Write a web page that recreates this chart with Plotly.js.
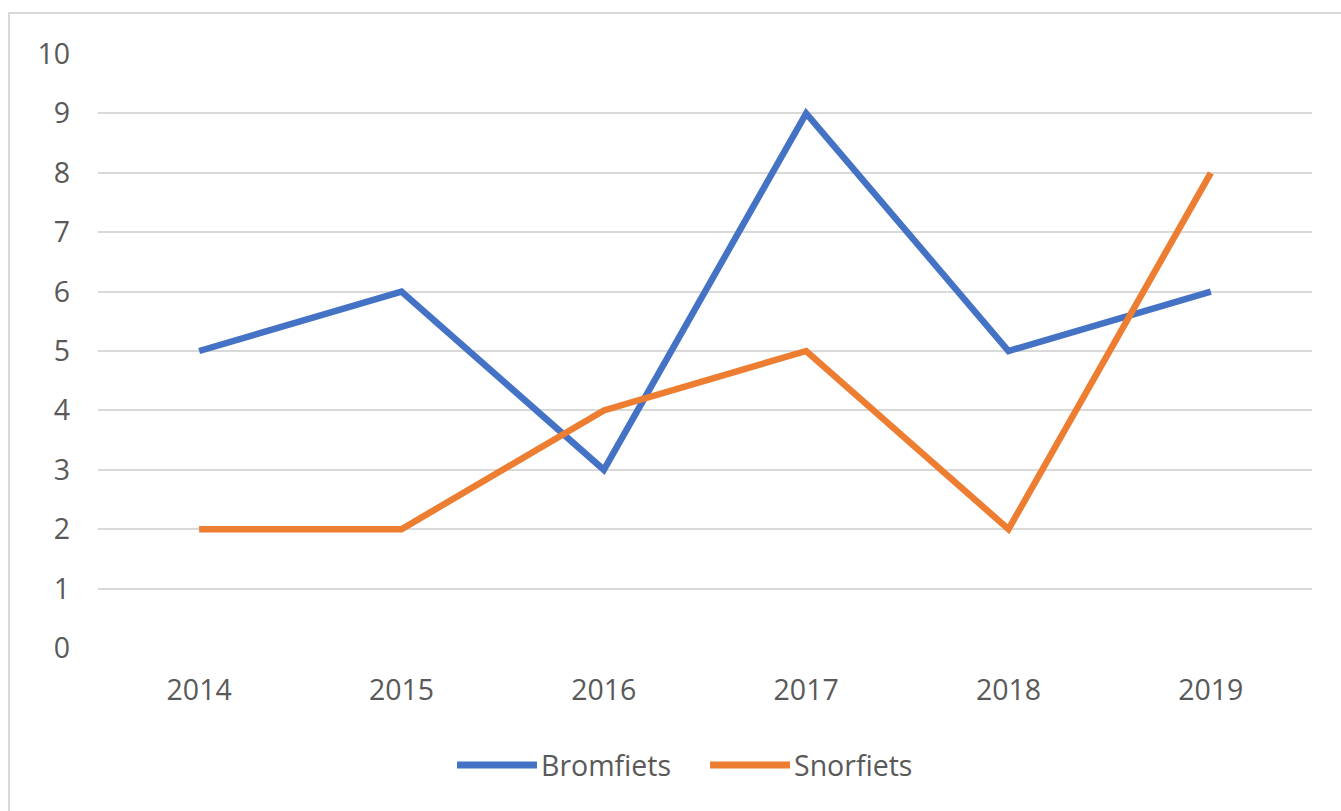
<!DOCTYPE html>
<html><head><meta charset="utf-8">
<script src="https://cdn.plot.ly/plotly-3.0.1.min.js"></script>
<style>html,body{margin:0;padding:0;background:#fff;}#chart{width:1341px;height:811px;}</style>
</head><body><div id="chart"></div>
<script>
const years = ["2014","2015","2016","2017","2018","2019"];
const seriesNames = ["Bromfiets","Snorfiets"];
const bromfiets = [5,6,3,9,5,6];
const snorfiets = [2,2,4,5,2,8];
const colors = ["#4472C4","#ED7D31"];
const yTicks = [0,1,2,3,4,5,6,7,8,9,10];

const W=1341,H=811,L=98,R=29,T=54,B=163;
const pw=W-L-R, ph=H-T-B;
const px=x=>(x-L)/pw, py=y=>(H-B-y)/ph;

const traces=[bromfiets,snorfiets].map((v,i)=>({
  x:years,y:v,type:'scatter',mode:'lines',name:seriesNames[i],
  line:{color:colors[i],width:6.5,shape:'linear'},showlegend:false,hoverinfo:'skip'
}));

const font={family:'"Open Sans", sans-serif',size:28.5,color:'#595959'};
const shapes=[{type:'rect',xref:'paper',yref:'paper',x0:px(9),x1:px(1400),y0:py(13),y1:py(900),line:{color:'#d9d9d9',width:2},fillcolor:'rgba(0,0,0,0)',layer:'below'}];
const annotations=[];
const legX=[457,710], legY=765;
seriesNames.forEach((n,i)=>{
  shapes.push({type:'line',xref:'paper',yref:'paper',x0:px(legX[i]),x1:px(legX[i]+80),y0:py(legY),y1:py(legY),line:{color:colors[i],width:7}});
  annotations.push({xref:'paper',yref:'paper',x:px(legX[i]+82),y:py(legY),xanchor:'left',yanchor:'middle',text:n,showarrow:false,font:font});
});

const layout={
  width:W,height:H,margin:{l:L,r:R,t:T,b:B,pad:0},
  paper_bgcolor:'#fff',plot_bgcolor:'#fff',showlegend:false,
  font:font,
  xaxis:{type:'category',range:[-0.5,5.5],showgrid:false,zeroline:false,showline:false,ticks:'',tickfont:font,ticklabelstandoff:22,fixedrange:true},
  yaxis:{range:[0,10],tickvals:yTicks,ticktext:yTicks.map(String),showgrid:true,gridcolor:'#d9d9d9',gridwidth:2,zeroline:false,showline:false,ticks:'',tickfont:font,ticklabelstandoff:27,fixedrange:true},
  shapes:shapes,annotations:annotations
};
Plotly.newPlot('chart',traces,layout,{displayModeBar:false,staticPlot:true});
</script></body></html>
